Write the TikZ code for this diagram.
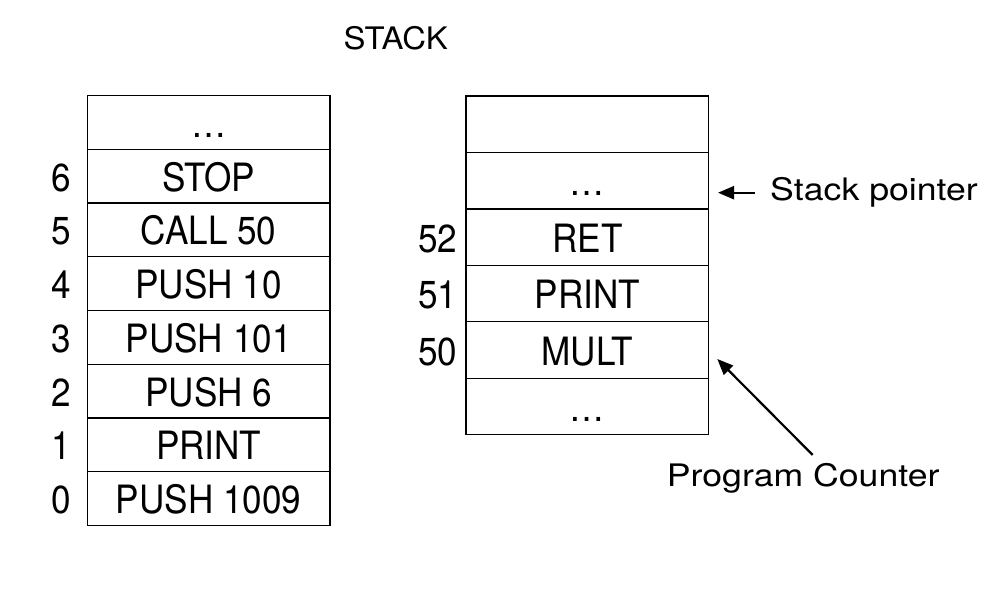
\documentclass[tikz,border=0pt]{standalone}
\usepackage{fontspec}
\setmainfont{TeX Gyre Heros}
\newfontfamily\cellfont[FakeStretch=0.9]{TeX Gyre Heros}
\newfontfamily\labfont[FakeStretch=1.15]{TeX Gyre Heros}
\newfontfamily\ttlfont[FakeStretch=1.06]{TeX Gyre Heros}
\usetikzlibrary{arrows.meta}
\begin{document}
\begin{tikzpicture}[x=1pt,y=-1pt,
  cell/.style={draw, line width=1.2pt, rectangle, minimum width=242.7pt,
    inner sep=0pt, outer sep=0pt, font=\cellfont\fontsize{39}{39}\selectfont,
    text height=30pt, text depth=0pt},
  lcell/.style={cell, minimum height=53.75pt},
  rcell/.style={cell, minimum height=56.45pt},
  idx/.style={inner sep=0pt, font=\cellfont\fontsize{39}{39}\selectfont,
    text height=30pt, text depth=0pt},
  lab/.style={inner sep=0pt, anchor=base west, font=\labfont\fontsize{31}{31}\selectfont},
  arr/.style={-{Triangle[length=16pt,width=13pt]}, line width=2.2pt}
]
\fill[white] (0,0) rectangle (1004,602);
\useasboundingbox (0,0) rectangle (1004,602);

% title
\node[inner sep=0pt, anchor=base, font=\ttlfont\fontsize{31}{31}\selectfont] (title) at (395.7,49.3) {STACK};

% left stack
\node[lcell] (l7) at (208.65,122.375) {\textellipsis};
\node[lcell] (l6) at (208.65,176.125) {STOP};
\node[lcell] (l5) at (208.65,229.875) {CALL 50};
\node[lcell] (l4) at (208.65,283.625) {PUSH 10};
\node[lcell] (l3) at (208.65,337.375) {PUSH 101};
\node[lcell] (l2) at (208.65,391.125) {PUSH 6};
\node[lcell] (l1) at (208.65,444.875) {PRINT};
\node[lcell] (l0) at (208.65,498.625) {PUSH 1009};

\node[idx] (n6) at (61,176.125) {6};
\node[idx] (n5) at (61,229.875) {5};
\node[idx] (n4) at (61,283.625) {4};
\node[idx] (n3) at (61,337.375) {3};
\node[idx] (n2) at (61,391.125) {2};
\node[idx] (n1) at (61,444.875) {1};
\node[idx] (n0) at (61,498.625) {0};

% right stack
\node[rcell] (r5) at (587.35,124.225) {};
\node[rcell] (r4) at (587.35,180.675) {\textellipsis};
\node[rcell] (r3) at (587.35,237.125) {RET};
\node[rcell] (r2) at (587.35,293.575) {PRINT};
\node[rcell] (r1) at (587.35,350.025) {MULT};
\node[rcell] (r0) at (587.35,406.475) {\textellipsis};

\node[idx, anchor=east] (m52) at (457.5,237.125) {52};
\node[idx, anchor=east] (m51) at (457.5,293.575) {51};
\node[idx, anchor=east] (m50) at (457.5,350.025) {50};

% labels and arrows
\node[lab] (sp) at (770,200) {Stack pointer};
\node[lab] (pc) at (666.7,486.7) {Program Counter};

\coordinate (sptail) at (755,192.7);
\coordinate (sptip) at (718,192.7);
\coordinate (pctail) at (812.7,455);
\coordinate (pctip) at (717.3,359);
\draw[arr] (sptail) -- (sptip);
\draw[arr] (pctail) -- (pctip);
\end{tikzpicture}
\end{document}
